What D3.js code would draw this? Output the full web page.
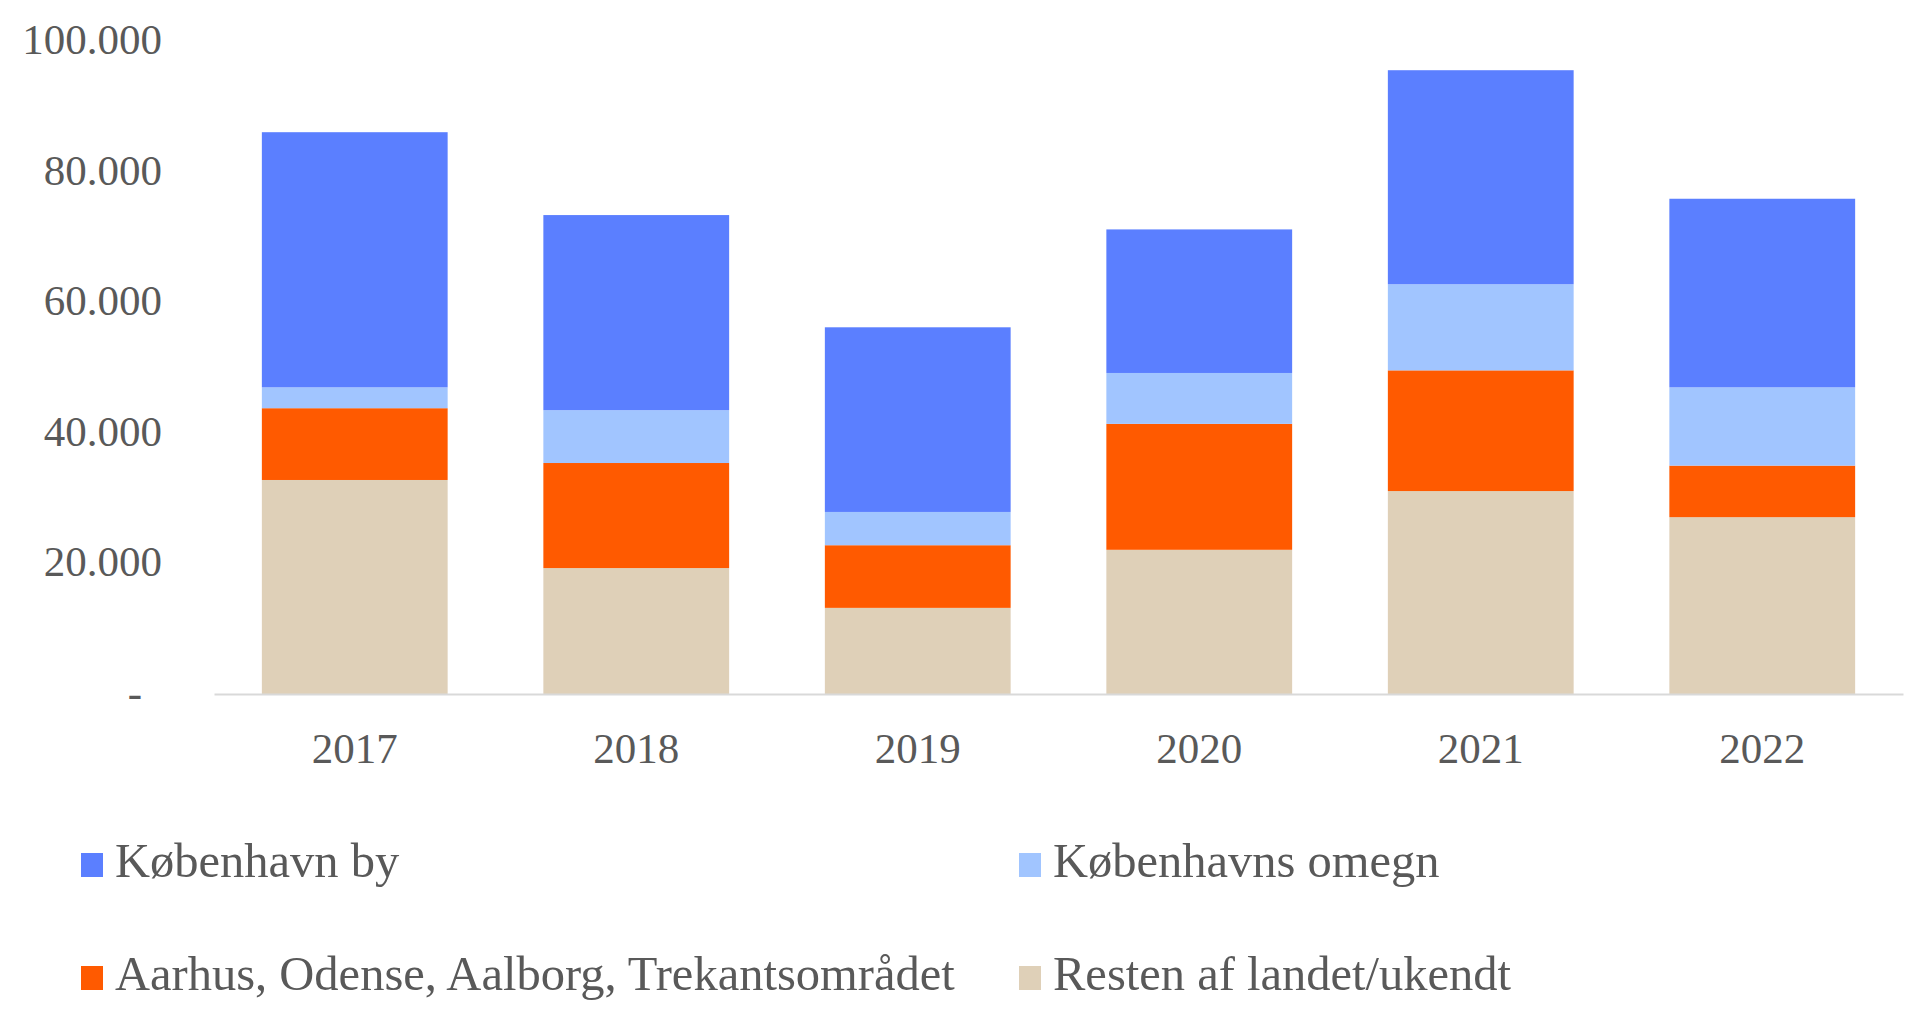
<!DOCTYPE html>
<html>
<head>
<meta charset="utf-8">
<script src="https://cdn.jsdelivr.net/npm/d3@7"></script>
<style>
  body{margin:0;background:#fff}
  text{font-family:"Liberation Serif","Times New Roman",serif;fill:#595959}
</style>
</head>
<body>
<script>
var years=["2017","2018","2019","2020","2021","2022"]
var series=["Resten af landet/ukendt","Aarhus, Odense, Aalborg, Trekantsområdet","Københavns omegn","København by"]
var resten=[32800,19300,13200,22100,31100,27100]
var storbyer=[11000,16100,9600,19300,18500,7900]
var omegn=[3200,8100,5100,7800,13200,12000]
var kbhBy=[39100,29900,28300,22000,32800,28900]
var yTicks=[0,20000,40000,60000,80000,100000]
var legendOrder=["København by","Københavns omegn","Aarhus, Odense, Aalborg, Trekantsområdet","Resten af landet/ukendt"]

var colors={
  "København by":"#5b7fff",
  "Københavns omegn":"#a1c5ff",
  "Aarhus, Odense, Aalborg, Trekantsområdet":"#ff5a00",
  "Resten af landet/ukendt":"#dfd0b8"
}

var screen={width:1920,height:1036}
var margins={top:41.5,left:214,right:17,bottom:342}
var width=screen.width-margins.left-margins.right
var height=screen.height-margins.top-margins.bottom

var rows=years.map(function(y,i){
  var r={year:y}
  r[series[0]]=resten[i]
  r[series[1]]=storbyer[i]
  r[series[2]]=omegn[i]
  r[series[3]]=kbhBy[i]
  return r
})
var stacked=d3.stack().keys(series)(rows)

var xScale=d3.scaleBand()
  .domain(years)
  .range([0,width])
  .paddingInner(0.34)
  .paddingOuter(0.17)
var yScale=d3.scaleLinear()
  .domain([0,100000])
  .range([height,0])

var svg=d3.select("body").append("svg")
  .attr("width",screen.width)
  .attr("height",screen.height)
var plot=svg.append("g")
  .attr("transform","translate("+margins.left+","+margins.top+")")

//bars
plot.selectAll("g.layer")
  .data(stacked)
  .enter()
  .append("g")
  .attr("class","layer")
  .attr("fill",function(d){return colors[d.key]})
  .selectAll("rect")
  .data(function(d){return d})
  .enter()
  .append("rect")
  .attr("x",function(d){return xScale(d.data.year)})
  .attr("width",xScale.bandwidth())
  .attr("y",function(d){return yScale(d[1])})
  .attr("height",function(d){return yScale(d[0])-yScale(d[1])})

//axes
var fmt=d3.formatLocale({decimal:",",thousands:".",grouping:[3]}).format(",d")
var yAxis=d3.axisLeft(yScale)
  .tickValues(yTicks)
  .tickSize(0)
  .tickPadding(51)
  .tickFormat(function(d){return d===0?"-":fmt(d)})
var yG=plot.append("g").call(yAxis)
yG.select(".domain").remove()
yG.selectAll("text")
  .style("font-size","43px")
  .attr("dy","0.29em")
  .attr("dx",function(d){return d===0?-21:-1})

var xAxis=d3.axisBottom(xScale).tickSize(0).tickPadding(38)
var xG=plot.append("g")
  .attr("transform","translate(0,"+height+")")
  .call(xAxis)
xG.select(".domain").attr("stroke","#d9d9d9").attr("stroke-width",2)
xG.selectAll("text").style("font-size","43px")

//legend
var legend=svg.append("g")
  .attr("transform","translate(81,853)")
var items=legend.selectAll("g")
  .data(legendOrder)
  .enter()
  .append("g")
  .attr("transform",function(d,i){return "translate("+((i%2)*938)+","+(Math.floor(i/2)*113)+")"})
items.append("rect")
  .attr("width",22)
  .attr("height",24)
  .attr("fill",function(d){return colors[d]})
items.append("text")
  .attr("x",34)
  .attr("y",24)
  .style("font-size","48.5px")
  .text(function(d){return d})
</script>
</body>
</html>
